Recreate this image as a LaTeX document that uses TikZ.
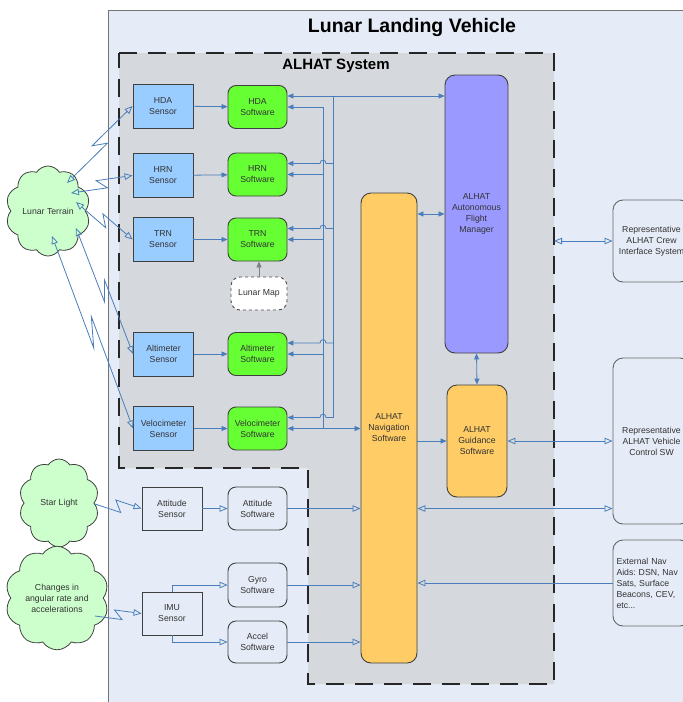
\documentclass[tikz,border=0pt]{standalone}
\usepackage{fontspec}
\setmainfont{Liberation Sans}
\usetikzlibrary{shapes.symbols,arrows.meta,calc}

\definecolor{vehicleBg}{HTML}{E6ECF7}
\definecolor{systemBg}{HTML}{D5D8DC}
\definecolor{sensorBlue}{HTML}{99CCFF}
\definecolor{softGreen}{HTML}{66FF33}
\definecolor{navOrange}{HTML}{FFCC66}
\definecolor{fmPurple}{HTML}{9999FF}
\definecolor{cloudGreen}{HTML}{CCFFCC}
\definecolor{wireBlue}{HTML}{4A7EBB}
\definecolor{edgeGray}{HTML}{404040}

\tikzset{
  BoxText/.style={font=\fontsize{8.7}{11}\selectfont,text=black!80,align=center,inner sep=1pt},
  SensorStyle/.style={BoxText,draw=edgeGray,line width=0.9pt,fill=#1,minimum width=60pt,minimum height=44pt},
  SoftStyle/.style={BoxText,draw=edgeGray,line width=0.9pt,fill=#1,rounded corners=8pt,minimum width=59pt,minimum height=43pt},
  OuterStyle/.style={BoxText,draw=gray!80!black,line width=0.9pt,rounded corners=10pt},
  CloudStyle/.style={BoxText,cloud,cloud puffs=10,cloud puff arc=115,draw=edgeGray,line width=0.8pt,fill=cloudGreen,minimum width=#1},
  WireStyle/.style={draw=wireBlue,line width=0.8pt},
  FillTip/.tip={Triangle[length=6pt,width=5pt]},
  OpenTip/.tip={Triangle[open,length=8pt,width=6.5pt]},
  BoltStyle/.style 2 args={to path={
    -- ($(\tikztostart)!.5!(\tikztotarget)!#1!(\tikztotarget)!#2!-90:(\tikztotarget)$)
    -- ($(\tikztostart)!.5!(\tikztotarget)!-#1!(\tikztotarget)!#2!90:(\tikztotarget)$)
    -- (\tikztotarget)}}
}

\begin{document}
\begin{tikzpicture}[x=1pt,y=-1pt]
\clip (0,0) rectangle (683,702);
\fill[white] (0,0) rectangle (683,702);
\draw[draw=gray!90!black,line width=1pt,fill=vehicleBg] (108,10) rectangle (700,720);
\draw[draw=black!85,line width=1.6pt,dash pattern=on 18pt off 11pt,fill=systemBg]
  (119,53) -- (554,53) -- (554,684) -- (308,684) -- (308,468) -- (119,468) -- cycle;
\coordinate (busLow) at (323,0);
\coordinate (busHigh) at (333,0);
\coordinate (hopL) at (320,0);
\coordinate (hopR) at (326,0);
\coordinate (sysEdge) at (554,0);

\node[font=\bfseries\fontsize{19.5}{22}\selectfont] (vehicleTitle) at (412,27) {Lunar Landing Vehicle};
\node[font=\bfseries\fontsize{15}{18}\selectfont] (systemTitle) at (336,66) {ALHAT System};

\node[SensorStyle=sensorBlue] (hdaSensor) at (163,106) {HDA\\Sensor};
\node[SensorStyle=sensorBlue] (hrnSensor) at (163,175.5) {HRN\\Sensor};
\node[SensorStyle=sensorBlue] (trnSensor) at (163,239.5) {TRN\\Sensor};
\node[SensorStyle=sensorBlue] (altSensor) at (163.5,354) {Altimeter\\Sensor};
\node[SensorStyle=sensorBlue] (velSensor) at (163.5,428.5) {Velocimeter\\Sensor};

\node[SoftStyle=softGreen] (hdaSoft) at (257.5,107) {HDA\\Software};
\node[SoftStyle=softGreen] (hrnSoft) at (257.5,174.5) {HRN\\Software};
\node[SoftStyle=softGreen] (trnSoft) at (257.5,239.5) {TRN\\Software};
\node[SoftStyle=softGreen] (altSoft) at (257.5,354) {Altimeter\\Software};
\node[SoftStyle=softGreen] (velSoft) at (257.5,428.5) {Velocimeter\\Software};

\node[SoftStyle=white,dashed,draw=black!70,minimum width=56pt,minimum height=33pt,rounded corners=9pt] (lunarMap) at (259,293.5) {Lunar Map};

\node[SensorStyle=vehicleBg,minimum height=43pt] (attSensor) at (172,508.5) {Attitude\\Sensor};
\node[SoftStyle=vehicleBg] (attSoft) at (257.5,508.5) {Attitude\\Software};
\node[SensorStyle=vehicleBg,minimum height=43pt] (imuSensor) at (172,613.5) {IMU\\Sensor};
\node[SoftStyle=vehicleBg,minimum height=44pt] (gyroSoft) at (257.5,585) {Gyro\\Software};
\node[SoftStyle=vehicleBg,minimum height=42pt] (accelSoft) at (257.5,642) {Accel\\Software};

\node[SoftStyle=navOrange,minimum width=56pt,minimum height=470pt,rounded corners=10pt] (navSoft) at (389,428) {ALHAT\\Navigation\\Software};
\node[SoftStyle=fmPurple,minimum width=63pt,minimum height=278pt,rounded corners=10pt] (fmSoft) at (476.5,214) {ALHAT\\Autonomous\\Flight\\Manager};
\node[SoftStyle=navOrange,minimum width=60pt,minimum height=112pt,rounded corners=10pt] (guidSoft) at (477,441) {ALHAT\\Guidance\\Software};

\node[OuterStyle,minimum width=77pt,minimum height=82pt] (crewBox) at (651.5,241) {Representative\\ALHAT Crew\\Interface System};
\node[OuterStyle,minimum width=77pt,minimum height=166pt] (vehBox) at (651.5,441) {Representative\\ALHAT Vehicle\\Control SW};
\node[OuterStyle,minimum width=77pt,minimum height=86pt,align=left,text width=70pt] (extNav) at (651.5,583) {External Nav\\Aids:\ DSN, Nav\\Sats, Surface\\Beacons, CEV,\\etc...};

\node[CloudStyle=84pt,minimum height=90pt] (terrain) at (48,211) {Lunar Terrain};
\node[CloudStyle=80pt,minimum height=88pt] (starLight) at (59,503) {Star Light};
\node[CloudStyle=84pt,minimum height=90pt] (motion) at (57,598) {Changes in\\angular rate and\\accelerations};

\foreach \s in {hdaSoft,hrnSoft,trnSoft,altSoft,velSoft}
  \coordinate (\s-up) at ([yshift=11pt]\s.east);

\draw[WireStyle,-FillTip] (hdaSensor) -- (hdaSoft);
\draw[WireStyle,-FillTip] (hrnSensor) -- (hrnSoft);
\draw[WireStyle,-FillTip] (trnSensor) -- (trnSoft);
\draw[WireStyle,-FillTip] (altSensor) -- (altSoft);
\draw[WireStyle,-FillTip] (velSensor) -- (velSoft);
\draw[gray,line width=0.9pt,-FillTip] (lunarMap.north) -- (lunarMap.north |- trnSoft.south);

\foreach \s in {hdaSoft,hrnSoft,trnSoft,altSoft}
  \draw[WireStyle,FillTip-] (\s.east) -- (\s.east -| busLow);
\draw[WireStyle] (hdaSoft.east -| busLow) -- (velSoft.east -| busLow);
\draw[WireStyle,FillTip-FillTip] (velSoft.east) -- (velSoft.east -| navSoft.west);
\foreach \s in {hrnSoft,trnSoft,altSoft,velSoft}
  \draw[WireStyle,FillTip-] (\s-up) -- (\s-up -| hopL) .. controls +(0,-4.5) and +(0,-4.5) .. (\s-up -| hopR) -- (\s-up -| busHigh);
\draw[WireStyle] (hdaSoft-up -| busHigh) -- (velSoft-up -| busHigh);
\draw[WireStyle,FillTip-FillTip] (hdaSoft-up) -- (hdaSoft-up -| fmSoft.west);

\draw[WireStyle,FillTip-FillTip] (navSoft.east |- fmSoft.west) -- (fmSoft.west);
\draw[WireStyle,FillTip-FillTip] (fmSoft.south) -- (guidSoft.north);
\draw[WireStyle,-FillTip] (navSoft.east |- guidSoft.west) -- (guidSoft.west);
\draw[WireStyle,OpenTip-OpenTip] (guidSoft.east) -- (guidSoft.east -| vehBox.west);
\draw[WireStyle,OpenTip-OpenTip] (navSoft.east |- attSoft.east) -- (attSoft.east -| vehBox.west);
\draw[WireStyle,OpenTip-OpenTip] (crewBox.west -| sysEdge) -- (crewBox.west);
\draw[WireStyle,-OpenTip] (extNav.west) -- (extNav.west -| navSoft.east);

\draw[WireStyle,-OpenTip] (attSensor) -- (attSoft);
\draw[WireStyle,-OpenTip] (attSoft.east) -- (attSoft.east -| navSoft.west);
\draw[WireStyle,-OpenTip] (gyroSoft.east) -- (gyroSoft.east -| navSoft.west);
\draw[WireStyle,-OpenTip] (accelSoft.east) -- (accelSoft.east -| navSoft.west);
\draw[WireStyle,-OpenTip] (imuSensor.north) |- (gyroSoft.west);
\draw[WireStyle,-OpenTip] (imuSensor.south) |- (accelSoft.west);

\draw[WireStyle,OpenTip-OpenTip] ($(terrain)+(19,-28)$) to[BoltStyle={6pt}{5pt}] (hdaSensor.west);
\draw[WireStyle,OpenTip-OpenTip] ($(terrain)+(23,-18)$) to[BoltStyle={4.5pt}{5pt}] (hrnSensor.west);
\draw[WireStyle,OpenTip-OpenTip] ($(terrain)+(28,-9)$) to[BoltStyle={5pt}{5pt}] (trnSensor.west);
\draw[WireStyle,OpenTip-OpenTip] ($(terrain)+(28,17)$) to[BoltStyle={10pt}{4.5pt}] (altSensor.west);
\draw[WireStyle,OpenTip-OpenTip] ($(terrain)+(4,25)$) to[BoltStyle={15pt}{5pt}] (velSensor.west);
\draw[WireStyle,-OpenTip] ($(starLight)+(36,1)$) to[BoltStyle={3pt}{6pt}] (attSensor.west);
\draw[WireStyle,-OpenTip] ($(motion)+(38,18)$) to[BoltStyle={3.5pt}{5pt}] (imuSensor.west);
\end{tikzpicture}
\end{document}
